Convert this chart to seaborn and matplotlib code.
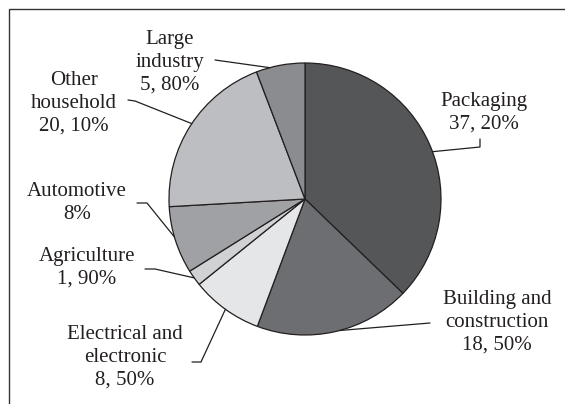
import numpy as np
import matplotlib
matplotlib.use("Agg")
import matplotlib.pyplot as plt
import matplotlib.patches as mpatches
import seaborn as sns

# ---- data ----
categories = ["Packaging", "Building and construction", "Electrical and electronic",
              "Agriculture", "Automotive", "Other household", "Large industry"]
values = [37.2, 18.5, 8.5, 1.9, 8.0, 20.1, 5.8]
labels = ["Packaging\n37, 20%", "Building and\nconstruction\n18, 50%",
          "Electrical and\nelectronic\n8, 50%", "Agriculture\n1, 90%",
          "Automotive\n8%", "Other\nhousehold\n20, 10%",
          "Large\nindustry\n5, 80%"]
colors = ["#555658", "#6d6e72", "#e5e6e8", "#d0d1d3", "#a0a1a4", "#bdbec1", "#8b8c8f"]

sns.set_theme(style="white")
plt.rcParams["font.family"] = ["Liberation Serif", "DejaVu Serif"]

W, H = 565, 404
fig = plt.figure(figsize=(W / 100, H / 100), dpi=100)
ax = fig.add_axes([0, 0, 1, 1])

cx, cy, r = 305, 199, 136
wedges, _ = ax.pie(values, colors=colors, startangle=90, counterclock=False,
                   center=(cx, H - cy), radius=r,
                   wedgeprops=dict(edgecolor="#231f20", linewidth=0.9))
ax.set_xlim(0, W)
ax.set_ylim(0, H)
ax.set_aspect("equal")
ax.axis("off")

# layout: text centre (px from top-left), leader start points, anchor fraction
text_pos = [(484, 112.5), (497, 322.5), (125, 357.5), (87, 268),
            (77, 203), (74, 103.5), (170, 62)]
leader_pts = [[(480, 139), (480, 147)],
              [(430, 323)],
              [(192, 362), (201, 362)],
              [(145, 269), (155, 269)],
              [(137, 203), (147, 203)],
              [(128, 100), (135, 101)],
              [(215, 60)]]
anchor_frac = [0.52, 0.47, 0.5, 0.5, 0.55, 0.51, 0.28]

ink = "#231f20"
for w, lab, (tx, ty), pts, f in zip(wedges, labels, text_pos, leader_pts, anchor_frac):
    ax.text(tx, H - ty, lab, ha="center", va="center", fontsize=15,
            color=ink, linespacing=1.26)
    # wedges are clockwise: start angle is theta2
    ang = np.deg2rad(w.theta2 - f * (w.theta2 - w.theta1))
    ex = w.center[0] + w.r * np.cos(ang)
    ey = w.center[1] + w.r * np.sin(ang)
    xs = [p[0] for p in pts] + [ex]
    ys = [H - p[1] for p in pts] + [ey]
    ax.plot(xs, ys, color=ink, lw=0.9, solid_joinstyle="miter")

# outer frame (left/top visible)
frame = mpatches.Rectangle((9 / W, -0.1), 1.2, 1.1 - 9 / H,
                           transform=fig.transFigure, fill=False,
                           edgecolor="#333333", lw=1.0, clip_on=False)
fig.patches.append(frame)

fig.savefig("out.png", dpi=100, facecolor="white")
